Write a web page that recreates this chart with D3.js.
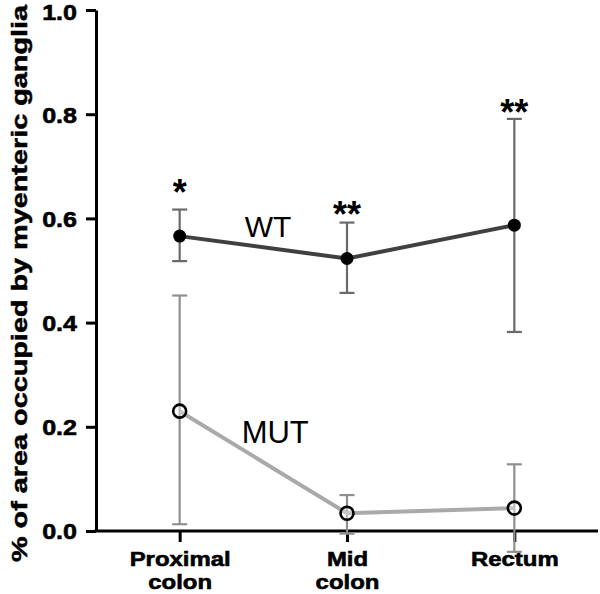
<!DOCTYPE html>
<html>
<head>
<meta charset="utf-8">
<script src="https://cdn.jsdelivr.net/npm/d3@7"></script>
<style>
  html, body { margin: 0; padding: 0; background: #fff; }
  svg { display: block; }
  text { font-family: "Liberation Sans", Arial, Helvetica, sans-serif; }
</style>
</head>
<body>
<svg id="chart" width="600" height="594"></svg>
<script>
// ---- data ----
const categories = ["Proximal colon", "Mid colon", "Rectum"];
const categoryLines = [["Proximal", "colon"], ["Mid", "colon"], ["Rectum"]];
const wtMean  = [0.566, 0.523, 0.587];
const wtUpper = [0.617, 0.592, 0.791];
const wtLower = [0.518, 0.457, 0.382];
const mutMean  = [0.230, 0.034, 0.044];
const mutUpper = [0.452, 0.069, 0.128];
const mutLower = [0.013, -0.005, -0.040];
const sigMarks = ["*", "**", "**"];
const sigLevel = [0.661, 0.619, 0.814];
const yTicks = [0, 0.2, 0.4, 0.6, 0.8, 1.0];
const yTitle = "% of area occupied by myenteric ganglia";

// ---- layout ----
const svg = d3.select("#chart");
const x = d3.scalePoint().domain(categories).range([96, 598]).padding(0.5);
const y = d3.scaleLinear().domain([0, 1]).range([531, 10]);
const sx = 1.14; // horizontal stretch of bold labels

// y axis
const yAxis = svg.append("g").attr("transform", "translate(96,0)")
  .call(d3.axisLeft(y).tickValues(yTicks).tickFormat(d3.format(".1f"))
    .tickSize(10).tickSizeOuter(0));
yAxis.select(".domain").attr("stroke", "#000").attr("stroke-width", 3);
yAxis.selectAll(".tick line").attr("stroke", "#000").attr("stroke-width", 3);
yAxis.selectAll(".tick text")
  .attr("font-family", "'Liberation Sans', Arial, sans-serif")
  .attr("font-size", 22).attr("font-weight", "bold").attr("fill", "#000")
  .attr("stroke", "#000").attr("stroke-width", 0.6)
  .attr("x", -19 / sx)
  .attr("dy", d => d === 1 ? "0.45em" : "0.36em")
  .attr("transform", `scale(${sx},1)`);

// x axis
const xAxis = svg.append("g").attr("transform", "translate(0,531)")
  .call(d3.axisBottom(x).tickSize(11).tickSizeOuter(0).tickFormat(""));
xAxis.select(".domain").attr("stroke", "#000").attr("stroke-width", 3)
  .attr("d", "M94.5,0H598");
xAxis.selectAll(".tick line").attr("stroke", "#000").attr("stroke-width", 3);
xAxis.selectAll(".tick").each(function(d, i) {
  categoryLines[i].forEach((ln, j) => {
    d3.select(this).append("text")
      .attr("text-anchor", "middle")
      .attr("font-size", 21).attr("font-weight", "bold").attr("fill", "#000")
      .attr("stroke", "#000").attr("stroke-width", 0.6)
      .attr("transform", `scale(${sx},1)`)
      .attr("x", 0).attr("y", 35 + j * 23.5).text(ln);
  });
});

// y title
svg.append("text")
  .attr("transform", `translate(27,${(5 + 562) / 2}) rotate(-90)`)
  .attr("text-anchor", "middle")
  .attr("font-size", 22).attr("font-weight", "bold").attr("fill", "#000")
  .attr("stroke", "#000").attr("stroke-width", 0.5)
  .attr("textLength", 557).attr("lengthAdjust", "spacingAndGlyphs")
  .text(yTitle);

// error bars
function errorBars(mean, upper, lower, color) {
  const g = svg.append("g").attr("stroke", color).attr("stroke-width", 2.2).attr("fill", "none");
  categories.forEach((c, i) => {
    const cx = x(c);
    g.append("line").attr("x1", cx).attr("x2", cx).attr("y1", y(upper[i])).attr("y2", y(lower[i]));
    g.append("line").attr("x1", cx - 7.5).attr("x2", cx + 7.5).attr("y1", y(upper[i])).attr("y2", y(upper[i]));
    g.append("line").attr("x1", cx - 7.5).attr("x2", cx + 7.5).attr("y1", y(lower[i])).attr("y2", y(lower[i]));
  });
}
errorBars(mutMean, mutUpper, mutLower, "#8f8f8f");
errorBars(wtMean, wtUpper, wtLower, "#6a6a6a");

// lines
const line = d3.line().x((d, i) => x(categories[i])).y(d => y(d));
svg.append("path").datum(mutMean).attr("d", line)
  .attr("fill", "none").attr("stroke", "#a9a9a9").attr("stroke-width", 4);
svg.append("path").datum(wtMean).attr("d", line)
  .attr("fill", "none").attr("stroke", "#404040").attr("stroke-width", 4);

// markers
svg.append("g").selectAll("circle").data(wtMean).join("circle")
  .attr("cx", (d, i) => x(categories[i])).attr("cy", d => y(d))
  .attr("r", 6.5).attr("fill", "#000");
svg.append("g").selectAll("circle").data(mutMean).join("circle")
  .attr("cx", (d, i) => x(categories[i])).attr("cy", d => y(d))
  .attr("r", 6.5).attr("fill", "#fff").attr("fill-opacity", 0.35)
  .attr("stroke", "#000").attr("stroke-width", 2.6);

// significance marks
svg.append("g").selectAll("text").data(sigMarks).join("text")
  .attr("x", (d, i) => x(categories[i])).attr("y", (d, i) => y(sigLevel[i]) + 18)
  .attr("text-anchor", "middle").attr("font-size", 36).attr("font-weight", "bold")
  .attr("fill", "#000").text(d => d);

// series labels
svg.append("text").attr("x", x(categories[0]) + 65).attr("y", y(wtMean[0]) + 1)
  .attr("font-size", 30).attr("fill", "#000").text("WT");
svg.append("text").attr("x", x(categories[0]) + 62).attr("y", y(mutMean[0]) + 32)
  .attr("font-size", 31).attr("fill", "#000").text("MUT");
</script>
</body>
</html>
